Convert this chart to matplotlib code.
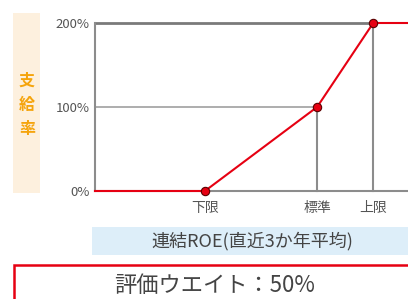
"""Payout-rate curve vs consolidated ROE (3-year average)."""

import matplotlib

matplotlib.use("Agg")
import matplotlib.pyplot as plt
from matplotlib.patches import Rectangle

plt.rcParams["font.family"] = ["Noto Sans CJK JP", "DejaVu Sans"]

# data
POINT_LABELS = ["下限", "標準", "上限"]
POINT_X = [1.0, 2.0, 2.5]
PAYOUT = [0, 100, 200]
Y_TICKS = [0, 100, 200]
Y_TICK_LABELS = ["0%", "100%", "200%"]
X_LIMITS = (0.02, 2.81)

Y_TITLE = "支\n給\n率"
X_TITLE = "連結ROE(直近3か年平均)"
WEIGHT_TEXT = "評価ウエイト：50%"

RED = "#e60012"
GRAY = "#8c8c8c"


def main() -> None:
    fig = plt.figure(figsize=(4.08, 2.99), dpi=100)
    W, H = 408, 299

    def fx(px):
        return px / W

    def fy(py):
        return 1 - py / H

    ax = fig.add_axes([fx(95), fy(191), fx(313), 168 / H])
    ax.set_xlim(*X_LIMITS)
    ax.set_ylim(0, 200)

    # guide lines
    ax.plot([X_LIMITS[0], POINT_X[2]], [PAYOUT[2], PAYOUT[2]], color="#7a7a7a", lw=2.0, clip_on=False, zorder=2)
    ax.plot([X_LIMITS[0], POINT_X[1]], [PAYOUT[1], PAYOUT[1]], color="#a0a0a0", lw=1.2, clip_on=False, zorder=2)
    ax.plot([POINT_X[1], POINT_X[1]], [0, PAYOUT[1]], color=GRAY, lw=1.5, clip_on=False, zorder=2)
    ax.plot([POINT_X[2], POINT_X[2]], [0, PAYOUT[2]], color=GRAY, lw=1.5, clip_on=False, zorder=2)

    # payout curve
    curve_x = [X_LIMITS[0]] + POINT_X + [X_LIMITS[1]]
    curve_y = [PAYOUT[0]] + PAYOUT + [PAYOUT[-1]]
    ax.plot(curve_x, curve_y, color=RED, lw=1.5, clip_on=False, zorder=3)
    ax.plot(POINT_X, PAYOUT, "o", color=RED, markersize=6, markeredgecolor="#5a0000",
            markeredgewidth=0.8, clip_on=False, zorder=4)

    for side in ["top", "right"]:
        ax.spines[side].set_visible(False)
    ax.spines["left"].set_color(GRAY)
    ax.spines["left"].set_linewidth(1.5)
    ax.spines["bottom"].set_color(GRAY)
    ax.spines["bottom"].set_linewidth(1.5)
    ax.spines["bottom"].set_zorder(1)

    ax.set_yticks(Y_TICKS)
    ax.set_yticklabels(Y_TICK_LABELS, fontsize=9.5, color="#555555")
    ax.set_xticks(POINT_X)
    ax.set_xticklabels(POINT_LABELS, fontsize=10, color="#555555")
    ax.tick_params(length=0, pad=4)
    ax.tick_params(axis="x", pad=7)

    # y title box
    fig.patches.append(Rectangle((fx(13), fy(193)), fx(27), 180 / H, transform=fig.transFigure,
                                 facecolor="#fdf0de", edgecolor="none", zorder=0))
    fig.text(fx(27), fy(105), Y_TITLE, ha="center", va="center", fontsize=11.5, color="#f5a40c",
             fontweight="bold", linespacing=1.65)

    # x title box
    fig.patches.append(Rectangle((fx(92), fy(255)), fx(316), 28 / H, transform=fig.transFigure,
                                 facecolor="#ddeef9", edgecolor="none", zorder=0))
    fig.text(fx(252), fy(241), X_TITLE, ha="center", va="center", fontsize=13, color="#444444")

    # weight box
    fig.patches.append(Rectangle((fx(14), fy(310)), fx(410), 45 / H, transform=fig.transFigure,
                                 facecolor="white", edgecolor=RED, linewidth=1.8, zorder=0))
    fig.text(fx(215), fy(286), WEIGHT_TEXT, ha="center", va="center", fontsize=16, color="#444444")

    fig.savefig("out.png", dpi=100)
    plt.close(fig)


if __name__ == "__main__":
    main()
